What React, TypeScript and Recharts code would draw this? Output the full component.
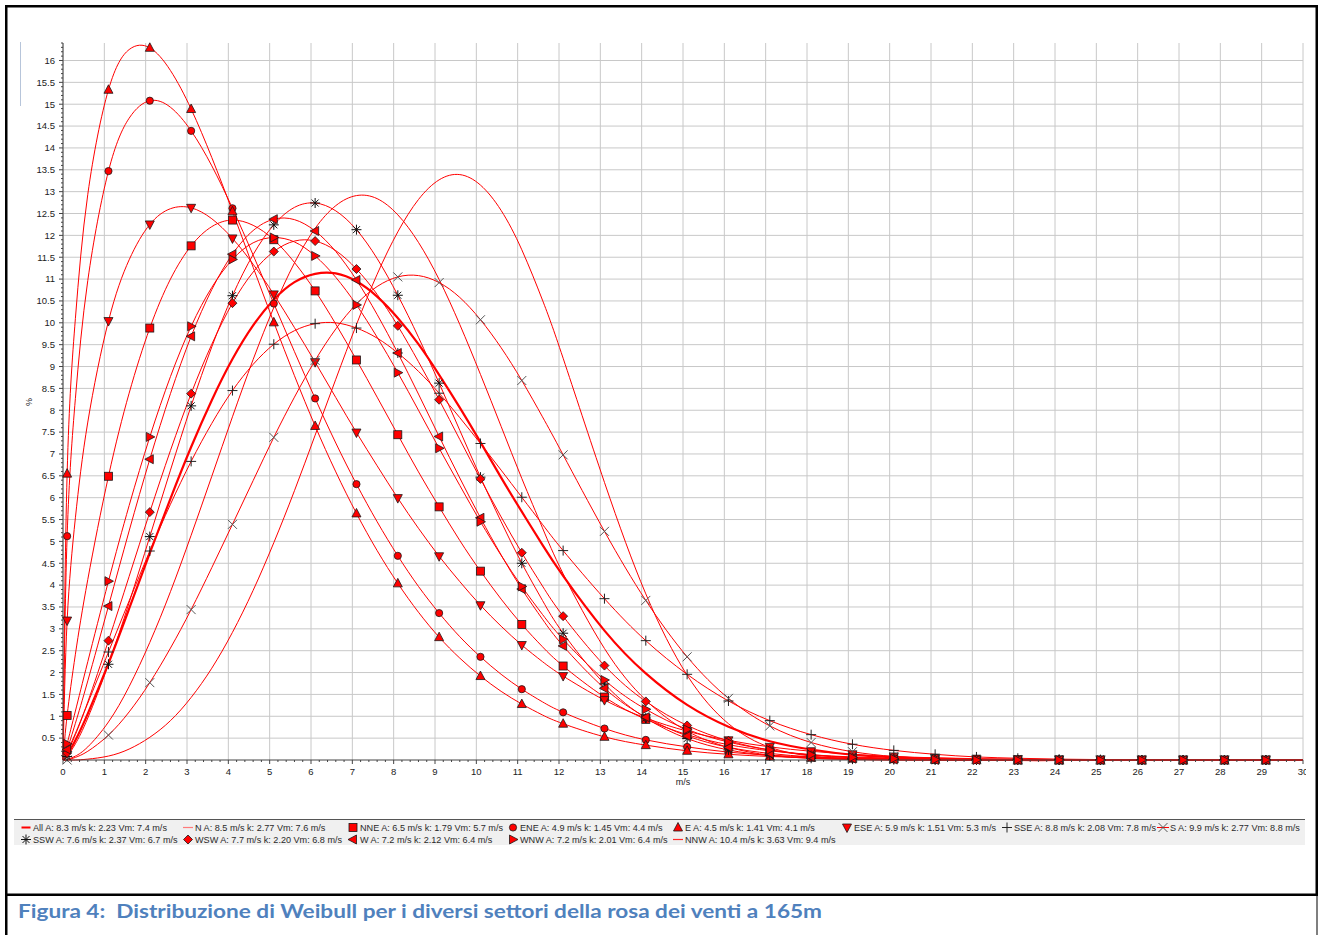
import React from "react";
import { ComposedChart, Line, XAxis, YAxis, CartesianGrid } from "recharts";

// wind speed samples (m/s); the plotted markers sit on the n + 0.1 points
const speeds = [
  0, 0.1, 0.3, 0.6, 1.1, 1.6, 2.1, 2.6, 3.1, 3.6, 4.1, 4.6, 5.1, 5.6, 6.1, 6.6, 7.1, 7.6, 8.1, 8.6, 9.1, 9.6,
  10.1, 10.6, 11.1, 11.6, 12.1, 13.1, 14.1, 15.1, 16.1, 17.1, 18.1, 19.1, 20.1, 21.1, 22.1, 23.1, 24.1, 25.1,
  26.1, 27.1, 28.1, 29.1, 30,
];

// frequency (%) per sector
const seriesAll = [
  0, 0.12, 0.45, 1.06, 2.21, 3.46, 4.73, 5.98, 7.16, 8.23, 9.17, 9.94, 10.53, 10.93, 11.12, 11.13, 10.95, 10.6,
  10.11, 9.51, 8.81, 8.06, 7.27, 6.46, 5.68, 4.92, 4.21, 2.96, 1.98, 1.26, 0.76, 0.43, 0.24, 0.12, 0.06, 0.03,
  0.01, 0, 0, 0, 0, 0, 0, 0, 0,
];
const seriesN = [
  0, 0.01, 0.09, 0.3, 0.87, 1.68, 2.69, 3.85, 5.14, 6.49, 7.85, 9.16, 10.35, 11.37, 12.16, 12.68, 12.91, 12.84,
  12.47, 11.84, 10.99, 9.96, 8.82, 7.63, 6.44, 5.31, 4.26, 2.55, 1.37, 0.66, 0.29, 0.11, 0.04, 0.01, 0, 0, 0,
  0, 0, 0, 0, 0, 0, 0, 0,
];
const seriesNNE = [
  0, 1.02, 2.42, 4.13, 6.49, 8.39, 9.88, 11.0, 11.76, 12.2, 12.35, 12.23, 11.9, 11.38, 10.73, 9.97, 9.15, 8.3,
  7.44, 6.59, 5.79, 5.02, 4.32, 3.68, 3.1, 2.59, 2.15, 1.44, 0.93, 0.58, 0.35, 0.21, 0.12, 0.07, 0.04, 0.02,
  0.01, 0, 0, 0, 0, 0, 0, 0, 0,
];
const seriesENE = [
  0, 5.12, 8.27, 10.97, 13.47, 14.68, 15.08, 14.93, 14.39, 13.59, 12.62, 11.55, 10.44, 9.34, 8.27, 7.25, 6.31,
  5.45, 4.67, 3.97, 3.36, 2.82, 2.36, 1.96, 1.62, 1.33, 1.09, 0.72, 0.46, 0.3, 0.18, 0.11, 0.07, 0.04, 0.03,
  0.02, 0.01, 0, 0, 0, 0, 0, 0, 0, 0,
];
const seriesE = [
  0, 6.55, 10.1, 12.94, 15.33, 16.25, 16.29, 15.77, 14.89, 13.78, 12.55, 11.27, 10.01, 8.79, 7.64, 6.59, 5.64,
  4.79, 4.04, 3.38, 2.81, 2.33, 1.92, 1.57, 1.28, 1.03, 0.83, 0.53, 0.34, 0.21, 0.13, 0.08, 0.05, 0.03, 0.02,
  0.01, 0, 0, 0, 0, 0, 0, 0, 0, 0,
];
const seriesESE = [
  0, 3.19, 5.54, 7.73, 10.04, 11.44, 12.25, 12.61, 12.63, 12.38, 11.93, 11.34, 10.65, 9.89, 9.1, 8.29, 7.49,
  6.73, 5.99, 5.3, 4.66, 4.08, 3.54, 3.06, 2.63, 2.25, 1.92, 1.37, 0.96, 0.66, 0.45, 0.3, 0.2, 0.13, 0.08, 0.05,
  0.03, 0.02, 0.01, 0, 0, 0, 0, 0, 0,
];
const seriesSSE = [
  0, 0.19, 0.61, 1.3, 2.47, 3.64, 4.78, 5.85, 6.83, 7.7, 8.45, 9.05, 9.51, 9.82, 9.98, 10.0, 9.88, 9.65, 9.31,
  8.89, 8.39, 7.83, 7.24, 6.63, 6.01, 5.39, 4.79, 3.69, 2.73, 1.96, 1.35, 0.9, 0.58, 0.36, 0.22, 0.13, 0.07,
  0.04, 0.02, 0.01, 0, 0, 0, 0, 0,
];
const seriesS = [
  0, 0, 0.06, 0.2, 0.57, 1.1, 1.77, 2.56, 3.44, 4.4, 5.39, 6.39, 7.38, 8.3, 9.14, 9.86, 10.43, 10.83, 11.05,
  11.08, 10.92, 10.58, 10.07, 9.43, 8.68, 7.85, 6.98, 5.23, 3.65, 2.36, 1.41, 0.78, 0.4, 0.19, 0.08, 0.03, 0.01,
  0, 0, 0, 0, 0, 0, 0, 0,
];
const seriesSSW = [
  0, 0.08, 0.37, 0.96, 2.19, 3.6, 5.11, 6.63, 8.1, 9.45, 10.62, 11.56, 12.24, 12.64, 12.74, 12.56, 12.13, 11.47,
  10.63, 9.67, 8.62, 7.54, 6.47, 5.45, 4.5, 3.65, 2.9, 1.74, 0.96, 0.49, 0.23, 0.1, 0.04, 0.02, 0.01, 0, 0, 0,
  0, 0, 0, 0, 0, 0, 0,
];
const seriesWSW = [
  0, 0.16, 0.58, 1.33, 2.73, 4.2, 5.67, 7.08, 8.38, 9.51, 10.45, 11.16, 11.63, 11.87, 11.87, 11.65, 11.23,
  10.65, 9.93, 9.11, 8.24, 7.33, 6.43, 5.56, 4.74, 3.98, 3.29, 2.16, 1.34, 0.79, 0.44, 0.23, 0.11, 0.05, 0.02,
  0.01, 0, 0, 0, 0, 0, 0, 0, 0, 0,
];
const seriesW = [
  0, 0.24, 0.84, 1.81, 3.52, 5.24, 6.88, 8.38, 9.69, 10.76, 11.57, 12.11, 12.37, 12.36, 12.1, 11.63, 10.98,
  10.19, 9.31, 8.37, 7.4, 6.45, 5.54, 4.69, 3.91, 3.22, 2.61, 1.64, 0.98, 0.55, 0.29, 0.15, 0.07, 0.03, 0.01,
  0, 0, 0, 0, 0, 0, 0, 0, 0, 0,
];
const seriesWNW = [
  0, 0.37, 1.12, 2.25, 4.09, 5.82, 7.39, 8.77, 9.92, 10.81, 11.45, 11.83, 11.95, 11.85, 11.53, 11.04, 10.41,
  9.67, 8.86, 8.0, 7.13, 6.28, 5.45, 4.68, 3.97, 3.33, 2.76, 1.83, 1.16, 0.7, 0.41, 0.23, 0.12, 0.06, 0.03,
  0.01, 0, 0, 0, 0, 0, 0, 0, 0, 0,
];
const seriesNNW = [
  0, 0, 0, 0.02, 0.09, 0.25, 0.52, 0.9, 1.43, 2.1, 2.92, 3.88, 4.97, 6.16, 7.43, 8.71, 9.96, 11.11, 12.08,
  12.82, 13.27, 13.39, 13.15, 12.57, 11.67, 10.52, 9.19, 6.35, 3.8, 1.94, 0.83, 0.29, 0.09, 0.02, 0, 0, 0, 0,
  0, 0, 0, 0, 0, 0, 0,
];

const legendLabels = [
  "All A: 8.3 m/s k: 2.23 Vm: 7.4 m/s",
  "N A: 8.5 m/s k: 2.77 Vm: 7.6 m/s",
  "NNE A: 6.5 m/s k: 1.79 Vm: 5.7 m/s",
  "ENE A: 4.9 m/s k: 1.45 Vm: 4.4 m/s",
  "E A: 4.5 m/s k: 1.41 Vm: 4.1 m/s",
  "ESE A: 5.9 m/s k: 1.51 Vm: 5.3 m/s",
  "SSE A: 8.8 m/s k: 2.08 Vm: 7.8 m/s",
  "S A: 9.9 m/s k: 2.77 Vm: 8.8 m/s",
  "SSW A: 7.6 m/s k: 2.37 Vm: 6.7 m/s",
  "WSW A: 7.7 m/s k: 2.20 Vm: 6.8 m/s",
  "W A: 7.2 m/s k: 2.12 Vm: 6.4 m/s",
  "WNW A: 7.2 m/s k: 2.01 Vm: 6.4 m/s",
  "NNW A: 10.4 m/s k: 3.63 Vm: 9.4 m/s",
];

const caption = "Figura 4:  Distribuzione di Weibull per i diversi settori della rosa dei venti a 165m";

const xMajor = Array.from({ length: 31 }, (_, i) => i);
const xTicks = Array.from({ length: 151 }, (_, i) => i / 5);
const yMajor = Array.from({ length: 32 }, (_, i) => (i + 1) / 2);
const yTicks = Array.from({ length: 164 }, (_, i) => (i + 1) / 10);

type Sector = { key: string; values: number[]; shape: string | null; label: string };

const sectors: Sector[] = [
  { key: "All", values: seriesAll, shape: null, label: legendLabels[0] },
  { key: "N", values: seriesN, shape: null, label: legendLabels[1] },
  { key: "NNE", values: seriesNNE, shape: "square", label: legendLabels[2] },
  { key: "ENE", values: seriesENE, shape: "circle", label: legendLabels[3] },
  { key: "E", values: seriesE, shape: "up", label: legendLabels[4] },
  { key: "ESE", values: seriesESE, shape: "down", label: legendLabels[5] },
  { key: "SSE", values: seriesSSE, shape: "plus", label: legendLabels[6] },
  { key: "S", values: seriesS, shape: "cross", label: legendLabels[7] },
  { key: "SSW", values: seriesSSW, shape: "star", label: legendLabels[8] },
  { key: "WSW", values: seriesWSW, shape: "diamond", label: legendLabels[9] },
  { key: "W", values: seriesW, shape: "left", label: legendLabels[10] },
  { key: "WNW", values: seriesWNW, shape: "right", label: legendLabels[11] },
  { key: "NNW", values: seriesNNW, shape: null, label: legendLabels[12] },
];

const rows = speeds.map((x, i) => {
  const row: Record<string, number> = { x };
  sectors.forEach((s) => {
    row[s.key] = s.values[i];
  });
  return row;
});

const markerAt = speeds.map((s) => Math.round(s * 10) % 10 === 1);

const RED = "#ff0000";
const EDGE = "#1a1a1a";
const FONT = "'Liberation Sans', Arial, sans-serif";

function Marker({ shape, cx, cy }: { shape: string; cx: number; cy: number }) {
  const p = { fill: RED, stroke: EDGE, strokeWidth: 0.8 };
  switch (shape) {
    case "square":
      return <rect x={cx - 4} y={cy - 4} width={8} height={8} {...p} />;
    case "circle":
      return <circle cx={cx} cy={cy} r={3.6} {...p} />;
    case "up":
      return <polygon points={`${cx},${cy - 5} ${cx + 4.5},${cy + 3.5} ${cx - 4.5},${cy + 3.5}`} {...p} />;
    case "down":
      return <polygon points={`${cx - 4.5},${cy - 3.5} ${cx + 4.5},${cy - 3.5} ${cx},${cy + 5}`} {...p} />;
    case "left":
      return <polygon points={`${cx - 5},${cy} ${cx + 3.5},${cy - 4.5} ${cx + 3.5},${cy + 4.5}`} {...p} />;
    case "right":
      return <polygon points={`${cx + 5},${cy} ${cx - 3.5},${cy - 4.5} ${cx - 3.5},${cy + 4.5}`} {...p} />;
    case "diamond":
      return <polygon points={`${cx},${cy - 4.5} ${cx + 4.5},${cy} ${cx},${cy + 4.5} ${cx - 4.5},${cy}`} {...p} />;
    case "plus":
      return <path d={`M${cx - 5},${cy}H${cx + 5}M${cx},${cy - 5}V${cy + 5}`} stroke="#222" strokeWidth={1} />;
    case "cross":
      return (
        <path
          d={`M${cx - 4.5},${cy - 4.5}L${cx + 4.5},${cy + 4.5}M${cx - 4.5},${cy + 4.5}L${cx + 4.5},${cy - 4.5}`}
          stroke="#555"
          strokeWidth={1}
        />
      );
    case "star":
      return (
        <path
          d={`M${cx - 5},${cy}H${cx + 5}M${cx},${cy - 5}V${cy + 5}M${cx - 3.5},${cy - 3.5}L${cx + 3.5},${cy + 3.5}M${cx - 3.5},${cy + 3.5}L${cx + 3.5},${cy - 3.5}`}
          stroke="#111"
          strokeWidth={1}
        />
      );
    default:
      return <g />;
  }
}

const makeDot = (key: string, shape: string) => (props: any) => {
  const { cx, cy, index } = props;
  if (!markerAt[index] || cx == null || cy == null) return <g key={`${key}-${index}`} />;
  return (
    <g key={`${key}-${index}`}>
      <Marker shape={shape} cx={cx} cy={cy} />
    </g>
  );
};

function YTick(props: any) {
  const { x, y, payload } = props;
  const v = payload.value as number;
  const major = Math.abs(v * 2 - Math.round(v * 2)) < 1e-6;
  return (
    <g>
      <line x1={x - (major ? 4 : 2)} x2={x} y1={y} y2={y} stroke="#444" />
      {major && v <= 16 && (
        <text x={x - 8} y={y} dy={3.3} textAnchor="end" fontSize={9.5} fontFamily={FONT} fill="#222">
          {v}
        </text>
      )}
    </g>
  );
}

function XTick(props: any) {
  const { x, y, payload } = props;
  const v = payload.value as number;
  const major = Math.abs(v - Math.round(v)) < 1e-6;
  return (
    <g>
      <line x1={x} x2={x} y1={y} y2={y + (major ? 4 : 2)} stroke="#444" />
      {major && (
        <text x={x} y={y + 15} textAnchor="middle" fontSize={9.5} fontFamily={FONT} fill="#222">
          {Math.round(v)}
        </text>
      )}
    </g>
  );
}

const legendCols = [26, 188, 353, 513, 678, 847, 1007, 1163];
const legendRows = [827.5, 839.5];

function LegendItem({ s, cx, cy }: { s: Sector; cx: number; cy: number }) {
  let symbol: React.ReactNode;
  if (s.key === "All") {
    symbol = <line x1={cx - 4.5} x2={cx + 4.5} y1={cy} y2={cy} stroke={RED} strokeWidth={2} />;
  } else if (!s.shape) {
    const c = s.key === "N" ? "#ff7a7a" : "#ff2a2a";
    symbol = <line x1={cx - 5} x2={cx + 5} y1={cy} y2={cy} stroke={c} strokeWidth={1.2} />;
  } else {
    symbol = (
      <g>
        {s.shape === "cross" && <line x1={cx - 6} x2={cx + 6} y1={cy} y2={cy} stroke={RED} />}
        <Marker shape={s.shape} cx={cx} cy={cy} />
      </g>
    );
  }
  return (
    <g>
      {symbol}
      <text x={cx + 7} y={cy + 3.2} fontSize={9.1} fontFamily={FONT} fill="#2a2a2a">
        {s.label}
      </text>
    </g>
  );
}

export default function App() {
  const drawOrder = [...sectors.filter((s) => s.key !== "All"), sectors[0]];
  return (
    <div style={{ position: "absolute", left: 0, top: 0, width: 1322, height: 935, background: "#fff" }}>
      <div style={{ position: "absolute", left: 0, top: 0, width: 1306, height: 800, overflow: "hidden" }}>
        <ComposedChart width={1306} height={800} data={rows} margin={{ top: 43, right: 3, bottom: 20, left: 23 }}>
          <CartesianGrid stroke="#c8c8c8" horizontalValues={yMajor} verticalValues={xMajor} />
          <XAxis
            dataKey="x"
            type="number"
            domain={[0, 30]}
            ticks={xTicks}
            interval={0}
            tickLine={false}
            tickSize={0}
            tickMargin={0}
            tick={<XTick />}
            axisLine={{ stroke: "#444" }}
            height={20}
          />
          <YAxis
            type="number"
            domain={[0, 16.4]}
            ticks={yTicks}
            interval={0}
            tickLine={false}
            tickSize={0}
            tickMargin={0}
            tick={<YTick />}
            axisLine={{ stroke: "#444" }}
            width={40}
          />
          {drawOrder.map((s) => (
            <Line
              key={s.key}
              dataKey={s.key}
              type="natural"
              stroke={RED}
              strokeWidth={s.key === "All" ? 2.2 : 1}
              dot={s.shape ? makeDot(s.key, s.shape) : false}
              activeDot={false}
              isAnimationActive={false}
            />
          ))}
        </ComposedChart>
      </div>
      <svg
        width={1322}
        height={935}
        style={{ position: "absolute", left: 0, top: 0, pointerEvents: "none" }}
      >
        <rect x={20} y={42} width={1} height={64} fill="#b7c5da" />
        <text x={683} y={785} textAnchor="middle" fontSize={9} fontFamily={FONT} fill="#222">
          m/s
        </text>
        <text transform="translate(32,402) rotate(-90)" textAnchor="middle" fontSize={9} fontFamily={FONT} fill="#222">
          %
        </text>
        <rect x={14} y={819} width={1291} height={26} fill="#f0f0f0" />
        <line x1={14} x2={1305} y1={819.5} y2={819.5} stroke="#555" />
        {sectors.map((s, i) => (
          <LegendItem
            key={s.key}
            s={s}
            cx={legendCols[i % 8]}
            cy={legendRows[Math.floor(i / 8)]}
          />
        ))}
        <rect x={5} y={5} width={1313} height={2.5} fill="#000" />
        <rect x={5} y={5} width={2.5} height={930} fill="#000" />
        <rect x={1315.5} y={5} width={2.5} height={891} fill="#000" />
        <rect x={5} y={893.5} width={1313} height={2.5} fill="#000" />
        <rect x={1316.5} y={896} width={1} height={39} fill="#000" />
        <text
          x={18}
          y={918}
          fontSize={19}
          fontWeight="bold"
          fontFamily="Lato, 'Open Sans', sans-serif"
          fill="#4f81bd"
          textLength={804}
          lengthAdjust="spacingAndGlyphs"
          style={{ whiteSpace: "pre" }}
        >
          {caption}
        </text>
      </svg>
    </div>
  );
}
